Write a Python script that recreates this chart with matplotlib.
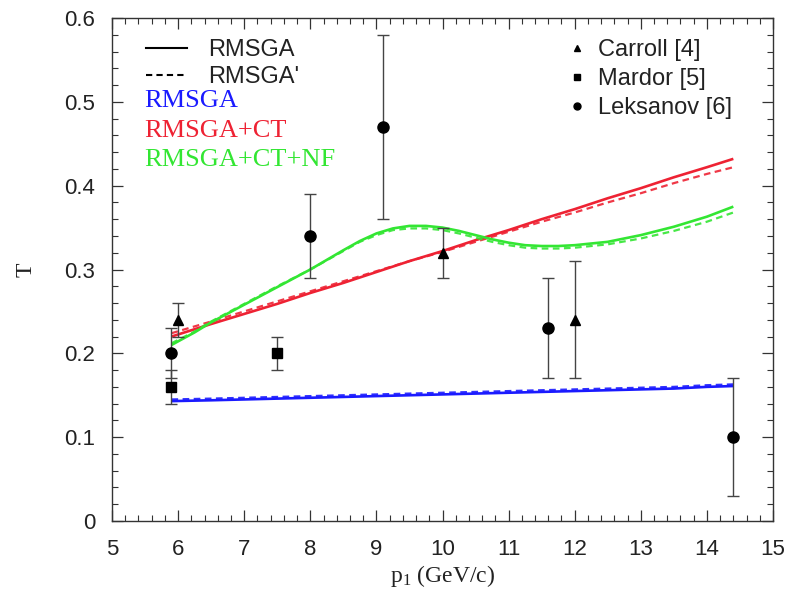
import matplotlib
matplotlib.use("Agg")
import matplotlib.pyplot as plt
from matplotlib.lines import Line2D
from matplotlib.ticker import MultipleLocator

plt.rcParams["mathtext.fontset"] = "custom"
plt.rcParams["mathtext.rm"] = "Liberation Serif"
plt.rcParams["mathtext.it"] = "Liberation Serif:italic"

# ---- theory curves: transparency T versus p1 ----
p_curve = [5.9, 6.5, 7.0, 7.5, 8.0, 8.5, 9.0, 9.5, 10.0, 10.5, 11.0, 11.5,
           12.0, 12.5, 13.0, 13.5, 14.0, 14.4]

rmsga = [0.143, 0.144, 0.145, 0.146, 0.147, 0.148, 0.149, 0.150, 0.151, 0.152,
         0.153, 0.154, 0.155, 0.156, 0.157, 0.158, 0.160, 0.161]
rmsga_p = [0.145, 0.146, 0.147, 0.148, 0.149, 0.150, 0.151, 0.152, 0.153, 0.154,
           0.155, 0.156, 0.157, 0.158, 0.159, 0.160, 0.162, 0.163]

rmsga_ct = [0.220, 0.235, 0.247, 0.259, 0.272, 0.284, 0.297, 0.310, 0.322, 0.335,
            0.347, 0.360, 0.372, 0.385, 0.397, 0.410, 0.422, 0.432]
rmsga_ct_p = [0.224, 0.238, 0.250, 0.262, 0.274, 0.286, 0.298, 0.310, 0.321, 0.333,
              0.345, 0.357, 0.368, 0.380, 0.391, 0.403, 0.414, 0.422]

p_nf = [5.9, 6.25, 6.5, 7.0, 7.5, 8.0, 8.5, 8.75, 9.0, 9.25, 9.5, 9.75, 10.0,
        10.25, 10.5, 10.75, 11.0, 11.25, 11.5, 11.75, 12.0, 12.5, 13.0, 13.5,
        14.0, 14.4]
rmsga_ct_nf = [0.210, 0.225, 0.237, 0.258, 0.279, 0.300, 0.323, 0.334, 0.343,
               0.349, 0.352, 0.352, 0.350, 0.346, 0.341, 0.336, 0.332, 0.329,
               0.328, 0.328, 0.329, 0.333, 0.341, 0.351, 0.363, 0.375]
rmsga_ct_nf_p = [0.212, 0.226, 0.238, 0.259, 0.280, 0.300, 0.322, 0.333, 0.341,
                 0.347, 0.349, 0.349, 0.347, 0.343, 0.338, 0.333, 0.329, 0.326,
                 0.325, 0.325, 0.326, 0.330, 0.337, 0.346, 0.357, 0.368]

# ---- measurements ----
carroll_p = [6.0, 10.0, 12.0]
carroll_T = [0.24, 0.32, 0.24]
carroll_err = [0.02, 0.03, 0.07]

mardor_p = [5.9, 7.5]
mardor_T = [0.16, 0.20]
mardor_err = [0.02, 0.02]

leksanov_p = [5.9, 8.0, 9.1, 11.6, 14.4]
leksanov_T = [0.20, 0.34, 0.47, 0.23, 0.10]
leksanov_err = [0.03, 0.05, 0.11, 0.06, 0.07]

x_ticks = [5, 6, 7, 8, 9, 10, 11, 12, 13, 14, 15]
y_ticks = [0, 0.1, 0.2, 0.3, 0.4, 0.5, 0.6]
y_tick_labels = ["0", "0.1", "0.2", "0.3", "0.4", "0.5", "0.6"]

BLUE = "#1a1aff"
RED = "#ee2233"
GREEN = "#33e633"

fig = plt.figure(figsize=(8.0, 5.92), dpi=100)
ax = fig.add_axes([112 / 800, 1 - 521 / 592, 661 / 800, 503 / 592])

for xs, solid, dashed, col in [(p_curve, rmsga, rmsga_p, BLUE),
                               (p_curve, rmsga_ct, rmsga_ct_p, RED),
                               (p_nf, rmsga_ct_nf, rmsga_ct_nf_p, GREEN)]:
    ax.plot(xs, solid, color=col, lw=1.9, solid_capstyle="butt",
            solid_joinstyle="round")
    ax.plot(xs, dashed, color=col, lw=1.6, ls=(0, (3, 2)), alpha=0.9)

ekw = dict(ls="none", color="black", ecolor="#444444", elinewidth=1.0,
           capsize=4.5, capthick=1.0)
ax.errorbar(carroll_p, carroll_T, yerr=carroll_err, marker="^", ms=7, **ekw)
ax.errorbar(mardor_p, mardor_T, yerr=mardor_err, marker="s", ms=7, **ekw)
ax.errorbar(leksanov_p, leksanov_T, yerr=leksanov_err, marker="o", ms=8, **ekw)

ax.set_xlim(5, 15)
ax.set_ylim(0, 0.6)
ax.set_xticks(x_ticks)
ax.set_yticks(y_ticks)
ax.set_yticklabels(y_tick_labels)
ax.xaxis.set_minor_locator(MultipleLocator(0.2))
ax.yaxis.set_minor_locator(MultipleLocator(0.02))
ax.tick_params(which="both", direction="in", top=True, right=True, color="#333333")
ax.tick_params(which="major", length=8, width=0.9)
ax.tick_params(which="minor", length=4, width=0.8)
ax.tick_params(axis="both", labelsize=16, labelcolor="#222222")
ax.tick_params(axis="x", pad=13)
ax.tick_params(axis="y", pad=12)
for lab in ax.get_xticklabels() + ax.get_yticklabels():
    lab.set_family("Liberation Sans")
for s in ax.spines.values():
    s.set_color("#333333")
    s.set_linewidth(1.0)

ax.set_xlabel(r"p$_1$ (GeV/c)", family="Liberation Serif", fontsize=17,
              color="#222222", labelpad=2)
ax.set_ylabel("T", family="Liberation Serif", fontsize=17, color="#222222",
              rotation=90, labelpad=20)

# line-style key
style_handles = [Line2D([], [], color="black", lw=1.5),
                 Line2D([], [], color="black", lw=1.5, ls=(0, (3, 2)))]
leg1 = ax.legend(style_handles, ["RMSGA", "RMSGA'"], loc="upper left",
                 bbox_to_anchor=(0.02, 1.0), frameon=False, handlelength=1.7,
                 handletextpad=0.9, labelspacing=0.2,
                 prop={"family": "Liberation Sans", "size": 17})
for t in leg1.get_texts():
    t.set_color("#222222")
ax.add_artist(leg1)

# colour key
for label, col, yf in [("RMSGA", BLUE, 0.834),
                       ("RMSGA+CT", RED, 0.775),
                       ("RMSGA+CT+NF", GREEN, 0.717)]:
    ax.text(0.048, yf, label, color=col, transform=ax.transAxes,
            family="Liberation Serif", fontsize=19, va="center", ha="left")

# data key
marker_handles = [Line2D([], [], ls="none", marker="^", ms=5, color="black"),
                  Line2D([], [], ls="none", marker="s", ms=5, color="black"),
                  Line2D([], [], ls="none", marker="o", ms=5, color="black")]
leg2 = ax.legend(marker_handles, ["Carroll [4]", "Mardor [5]", "Leksanov [6]"],
                 loc="upper left", bbox_to_anchor=(0.66, 1.0), frameon=False,
                 handlelength=0.6, handletextpad=0.6, labelspacing=0.3,
                 prop={"family": "Liberation Sans", "size": 17})
for t in leg2.get_texts():
    t.set_color("#222222")

fig.savefig("out.png", dpi=100, facecolor="white")
